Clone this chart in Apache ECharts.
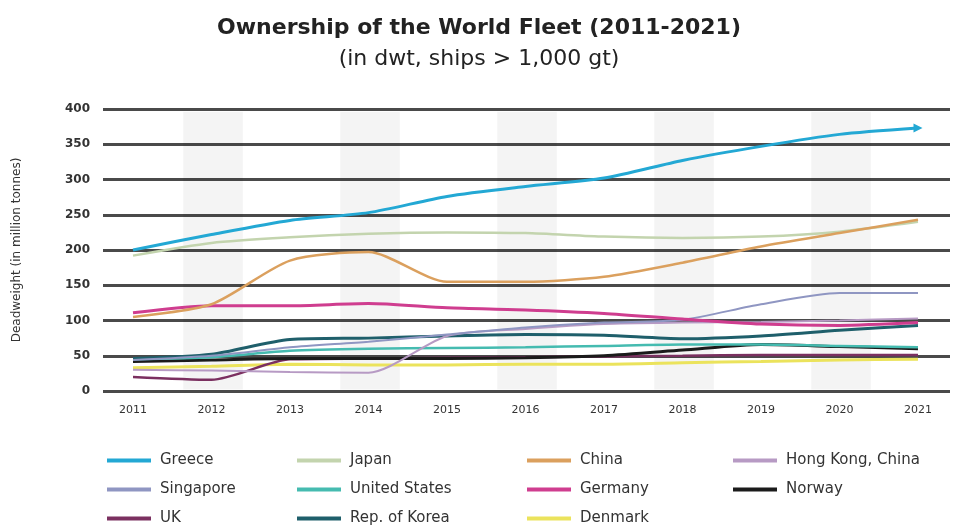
<!DOCTYPE html>
<html>
<head>
<meta charset="utf-8">
<script src="https://cdn.jsdelivr.net/npm/echarts@6/dist/echarts.min.js"></script>
<style>html,body{margin:0;padding:0;background:#fff}#c{width:958px;height:526px}</style>
</head>
<body>
<div id="c"></div>
<script>
const years = [2011, 2012, 2013, 2014, 2015, 2016, 2017, 2018, 2019, 2020, 2021];
const yTicks = [0, 50, 100, 150, 200, 250, 300, 350, 400];
const bandYears = [2012, 2014, 2016, 2018, 2020];

const greece    = [200, 222, 242, 253, 276, 290, 302, 327, 347, 364, 373];
const japan     = [192, 210, 218, 223, 225, 224, 219, 217, 219, 226, 240];
const china     = [105, 123, 185, 197, 155, 155, 162, 182, 205, 224, 243];
const hongKong  = [30, 29, 27, 26, 78, 88, 95, 97, 98, 100, 103];
const singapore = [44, 50, 62, 70, 80, 90, 97, 101, 123, 139, 139];
const usa       = [45, 48, 57, 60, 61, 62, 64, 66, 66, 64, 62];
const germany   = [111, 121, 121, 124, 118, 115, 110, 102, 95, 93, 97];
const norway    = [42, 44, 46, 46, 46, 47, 50, 58, 66, 63, 60];
const uk        = [20, 16, 45, 46, 47, 48, 49, 50, 51, 51, 51];
const korea     = [46, 52, 73, 75, 78, 80, 79, 74, 78, 86, 93];
const denmark   = [33, 35, 38, 37, 37, 38, 38, 40, 42, 44, 45];

const seriesDefs = [
  {name: 'Denmark', data: denmark, color: '#ebe35c', w: 3},
  {name: 'UK', data: uk, color: '#7b3060', w: 2.5},
  {name: 'Norway', data: norway, color: '#1b1b1b', w: 3},
  {name: 'United States', data: usa, color: '#45bbb0', w: 2.5},
  {name: 'Rep. of Korea', data: korea, color: '#1f5f6b', w: 3},
  {name: 'Hong Kong, China', data: hongKong, color: '#b79ac4', w: 2},
  {name: 'Singapore', data: singapore, color: '#8f96c2', w: 2},
  {name: 'Germany', data: germany, color: '#cf3d8f', w: 3},
  {name: 'Japan', data: japan, color: '#c3d4ae', w: 2.5},
  {name: 'China', data: china, color: '#dba05e', w: 2.5},
  {name: 'Greece', data: greece, color: '#23a8d4', w: 3}
];

const series = seriesDefs.map(d => ({
  name: d.name,
  type: 'line',
  xAxisIndex: 1,
  yAxisIndex: 1,
  smooth: 0.25,
  symbol: 'none',
  showSymbol: true,
  color: d.color,
  lineStyle: {color: d.color, width: d.w},
  itemStyle: {color: d.color},
  emphasis: {disabled: true},
  data: years.map((y, i) => {
    if (d.name === 'Greece' && i === years.length - 1) {
      return {value: [y, d.data[i]], symbol: 'triangle', symbolSize: [9, 9], symbolRotate: -90};
    }
    return [y, d.data[i]];
  })
}));

series.unshift({
  name: 'bands',
  type: 'line',
  xAxisIndex: 1,
  yAxisIndex: 1,
  data: [],
  silent: true,
  markArea: {
    silent: true,
    itemStyle: {color: 'rgba(0,0,0,0.045)'},
    data: bandYears.map(y => [{xAxis: y - 0.36, yAxis: 2}, {xAxis: y + 0.4, yAxis: 396}])
  }
});

const FONT = 'DejaVu Sans';

const legendStyle = {
  orient: 'vertical',
  padding: 0,
  height: 80,
  itemWidth: 44,
  itemHeight: 4,
  itemGap: 14,
  icon: 'rect',
  selectedMode: false,
  textStyle: {fontFamily: FONT, fontSize: 15, color: '#333', padding: [0, 0, 0, 4], lineHeight: 15}
};

const option = {
  animation: false,
  backgroundColor: '#fff',
  title: [
    {text: 'Ownership of the World Fleet (2011-2021)', left: 'center', top: 17, padding: 0,
     textStyle: {fontFamily: FONT, fontWeight: 700, fontSize: 22, color: '#222'}},
    {text: '(in dwt, ships > 1,000 gt)', left: 'center', top: 48, padding: 0,
     textStyle: {fontFamily: FONT, fontWeight: 400, fontSize: 22, color: '#222'}}
  ],
  grid: [
    {left: 103, right: 8, top: 109, bottom: 135},
    {left: 133, right: 40, top: 109, bottom: 135}
  ],
  xAxis: [
    {type: 'value', gridIndex: 0, min: 0, max: 1, show: false},
    {type: 'value', gridIndex: 1, min: years[0], max: years[years.length - 1], interval: 1,
     axisLine: {show: false}, axisTick: {show: false}, splitLine: {show: false},
     axisLabel: {formatter: v => String(v), fontFamily: FONT, fontSize: 11, color: '#333', margin: 14}}
  ],
  yAxis: [
    {type: 'value', gridIndex: 0, min: yTicks[0], max: yTicks[yTicks.length - 1], interval: 50,
     name: 'Deadweight (in million tonnes)', nameLocation: 'middle', nameGap: 80, nameRotate: 90,
     nameTextStyle: {fontFamily: FONT, fontSize: 12, color: '#333'},
     axisLine: {show: false}, axisTick: {show: false},
     axisLabel: {fontFamily: FONT, fontWeight: 700, fontSize: 12, color: '#333', margin: 13},
     splitLine: {lineStyle: {color: '#4a4a4a', width: 3}}},
    {type: 'value', gridIndex: 1, min: yTicks[0], max: yTicks[yTicks.length - 1], show: false, splitLine: {show: false}}
  ],
  legend: [
    Object.assign({left: 107, top: 453, data: ['Greece', 'Singapore', 'UK']}, legendStyle),
    Object.assign({left: 297, top: 453, data: ['Japan', 'United States', 'Rep. of Korea']}, legendStyle),
    Object.assign({left: 527, top: 453, data: ['China', 'Germany', 'Denmark']}, legendStyle),
    Object.assign({left: 733, top: 453, data: ['Hong Kong, China', 'Norway']}, legendStyle)
  ],
  series: series
};

const chart = echarts.init(document.getElementById('c'), null, {renderer: 'canvas'});
chart.setOption(option);
</script>
</body>
</html>
